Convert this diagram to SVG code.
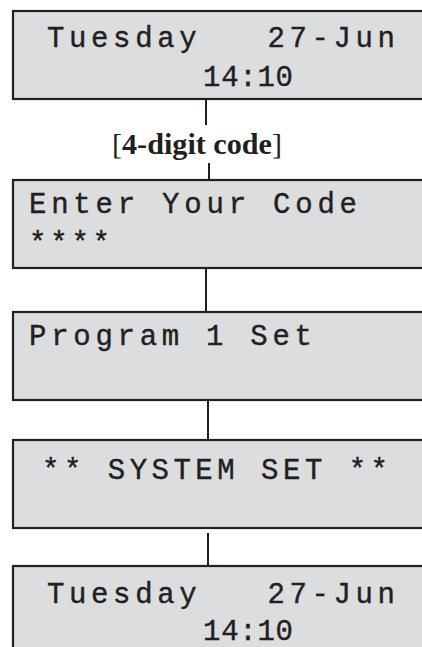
<svg xmlns="http://www.w3.org/2000/svg" width="422" height="647" viewBox="0 0 422 647">
<style>
.box{fill:#dcdddf;stroke:#231f20;stroke-width:2.2}
.lcd{font-family:"Liberation Mono","Courier New",monospace;font-size:29px;fill:#231f20;stroke:#231f20;stroke-width:0.4;white-space:pre}
.con{stroke:#231f20;stroke-width:2;fill:none}
.lbl{font-family:"Liberation Serif","Times New Roman",serif;font-size:29px;fill:#231f20}
</style>
<rect width="422" height="647" fill="#ffffff"/>
<g id="connectors">
<line class="con" x1="206" y1="99" x2="206" y2="125"/>
<line class="con" x1="209" y1="163" x2="209" y2="180"/>
<line class="con" x1="206" y1="268" x2="206" y2="312"/>
<line class="con" x1="208" y1="400" x2="208" y2="440"/>
<line class="con" x1="208" y1="533" x2="208" y2="566"/>
</g>
<g id="label-code">
<text class="lbl" x="112" y="154" textLength="170" lengthAdjust="spacingAndGlyphs">[<tspan font-weight="bold">4-digit code</tspan>]</text>
</g>
<g id="screen-1">
<rect class="box" x="13" y="11" width="420" height="88"/>
<text class="lcd" x="47" y="47" xml:space="preserve" textLength="348" lengthAdjust="spacing">Tuesday   27-Jun</text>
<text class="lcd" x="203" y="86" textLength="90" lengthAdjust="spacing">14:10</text>
</g>
<g id="screen-2">
<rect class="box" x="13" y="180" width="420" height="88"/>
<text class="lcd" x="29" y="213" xml:space="preserve" textLength="328" lengthAdjust="spacing">Enter Your Code</text>
<text class="lcd" x="29" y="252" textLength="81" lengthAdjust="spacing">****</text>
</g>
<g id="screen-3">
<rect class="box" x="13" y="312" width="420" height="88"/>
<text class="lcd" x="29" y="345" xml:space="preserve" textLength="283" lengthAdjust="spacing">Program 1 Set</text>
</g>
<g id="screen-4">
<rect class="box" x="13" y="440" width="420" height="88"/>
<text class="lcd" x="42" y="479" xml:space="preserve" textLength="346" lengthAdjust="spacing">** SYSTEM SET **</text>
</g>
<g id="screen-5">
<rect class="box" x="13" y="566" width="420" height="95"/>
<text class="lcd" x="47" y="603" xml:space="preserve" textLength="348" lengthAdjust="spacing">Tuesday   27-Jun</text>
<text class="lcd" x="203" y="640" textLength="90" lengthAdjust="spacing">14:10</text>
</g>
</svg>
